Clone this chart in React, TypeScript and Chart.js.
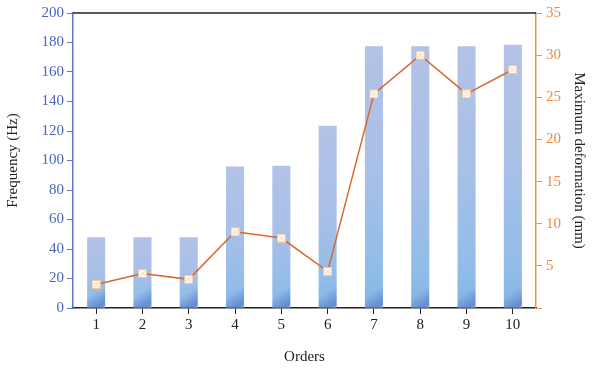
import React, { useEffect, useRef } from "react";
import { Chart, registerables } from "chart.js";

Chart.register(...registerables);

const categories = ["1", "2", "3", "4", "5", "6", "7", "8", "9", "10"];
const frequency = [48, 48, 48, 96, 96.5, 123.5, 177.5, 177.5, 177.5, 178.5];
const deformation = [2.8, 4.1, 3.4, 9.05, 8.3, 4.35, 25.4, 30.0, 25.4, 28.3];

const FONT = "'Liberation Serif', 'DejaVu Serif', serif";

function makeMarker(): HTMLCanvasElement {
  const c = document.createElement("canvas");
  c.width = 9;
  c.height = 9;
  const g = c.getContext("2d")!;
  g.fillStyle = "#fff9f0";
  g.fillRect(0, 0, 9, 9);
  g.strokeStyle = "#f6c596";
  g.lineWidth = 1;
  g.strokeRect(0.5, 0.5, 8, 8);
  g.strokeStyle = "#f8d3ad";
  g.beginPath();
  g.moveTo(2, 2);
  g.lineTo(7, 7);
  g.moveTo(7, 2);
  g.lineTo(2, 7);
  g.stroke();
  return c;
}

const frameLines = {
  id: "frameLines",
  afterDraw(chart: any) {
    const { ctx, chartArea } = chart;
    ctx.save();
    ctx.strokeStyle = "#222";
    ctx.lineWidth = 1.5;
    ctx.beginPath();
    ctx.moveTo(chartArea.left, chartArea.top);
    ctx.lineTo(chartArea.right, chartArea.top);
    ctx.stroke();
    ctx.restore();
  },
};

// darker diagonal shading in the bottom-right corner of each bar
const barCorner = {
  id: "barCorner",
  afterDatasetDraw(chart: any, args: any) {
    const meta = args.meta;
    if (meta.type !== "bar") return;
    const ctx = chart.ctx;
    meta.data.forEach((el: any) => {
      const { x, y, base, width } = el.getProps(["x", "y", "base", "width"], true);
      const l = x - width / 2;
      const r = x + width / 2;
      const h = Math.min(28, base - y);
      ctx.save();
      ctx.beginPath();
      ctx.rect(l, base - h, width, h);
      ctx.clip();
      const g = ctx.createLinearGradient(l, base - h, r, base);
      g.addColorStop(0, "rgba(100,140,210,0)");
      g.addColorStop(0.45, "rgba(100,140,210,0)");
      g.addColorStop(0.8, "rgba(95,135,208,0.75)");
      g.addColorStop(0.92, "rgba(95,135,208,0.85)");
      g.addColorStop(1, "rgba(180,205,240,0.6)");
      ctx.fillStyle = g;
      ctx.fillRect(l, base - h, width, h);
      ctx.restore();
    });
  },
};

export default function App() {
  const ref = useRef<HTMLCanvasElement>(null);
  useEffect(() => {
    document.body.style.margin = "0";
    const marker = makeMarker();
    const chart = new Chart(ref.current!, {
      type: "bar",
      data: {
        labels: categories,
        datasets: [
          {
            type: "line",
            label: "Maximum deformation",
            data: deformation,
            yAxisID: "y1",
            borderColor: "#d8682c",
            borderWidth: 1.5,
            pointStyle: marker as any,
            pointRadius: 5,
            order: 0,
          } as any,
          {
            type: "bar",
            label: "Frequency",
            data: frequency,
            yAxisID: "y",
            barPercentage: 0.39,
            categoryPercentage: 1,
            order: 1,
            backgroundColor: (c: any) => {
              const chart = c.chart;
              const ys = chart.scales?.y;
              if (!ys || c.raw === undefined) return "#a8c0e8";
              const top = ys.getPixelForValue(c.raw);
              const bottom = ys.getPixelForValue(0);
              if (!isFinite(top) || !isFinite(bottom) || top === bottom) return "#a8c0e8";
              const g = chart.ctx.createLinearGradient(0, top, 0, bottom);
              g.addColorStop(0, "#b3c2e6");
              g.addColorStop(0.45, "#a9c0e8");
              g.addColorStop(0.85, "#91bde8");
              g.addColorStop(1, "#86b4e4");
              return g;
            },
          } as any,
        ],
      },
      options: {
        animation: false,
        responsive: false,
        layout: { padding: { top: 9, left: 0, right: 0, bottom: 0 } },
        plugins: { legend: { display: false }, tooltip: { enabled: false } },
        scales: {
          x: {
            offset: true,
            grid: { display: true, drawOnChartArea: false, tickLength: 6, color: "#222", offset: false },
            border: { color: "#222", width: 1.5 },
            ticks: { color: "#222", font: { family: FONT, size: 15 }, padding: 2 },
            title: { display: true, text: "Orders", color: "#222", font: { family: FONT, size: 15 }, padding: { top: 12 } },
            afterFit: (s: any) => { s.height = 62; },
          },
          y: {
            position: "left",
            min: 0,
            max: 200,
            grid: { display: true, drawOnChartArea: false, tickLength: 6, color: "#5b78c8" },
            border: { color: "#5b78c8", width: 1.5 },
            ticks: { stepSize: 20, color: "#4866ba", font: { family: FONT, size: 15 }, padding: 3 },
            title: { display: true, text: "Frequency (Hz)", color: "#222", font: { family: FONT, size: 15 }, padding: { bottom: 6 } },
            afterFit: (s: any) => { s.width = 73; },
          },
          y1: {
            position: "right",
            min: 0,
            max: 35,
            grid: { display: true, drawOnChartArea: false, tickLength: 6, color: "#f3913f" },
            border: { color: "#f3913f", width: 1.5 },
            ticks: {
              stepSize: 5,
              color: "#f08a3a",
              font: { family: FONT, size: 15 },
              padding: 4,
              callback: (v: any) => (v === 0 ? "" : String(v)),
            },
            title: { display: true, text: "Maximum deformation (mm)", color: "#222", font: { family: FONT, size: 15 }, padding: { top: 12 } },
            afterFit: (s: any) => { s.width = 64; },
          },
        },
      },
      plugins: [frameLines, barCorner],
    });
    return () => chart.destroy();
  }, []);
  return (
    <div style={{ width: 600, height: 370 }}>
      <canvas ref={ref} width={600} height={370} style={{ display: "block" }} />
    </div>
  );
}
